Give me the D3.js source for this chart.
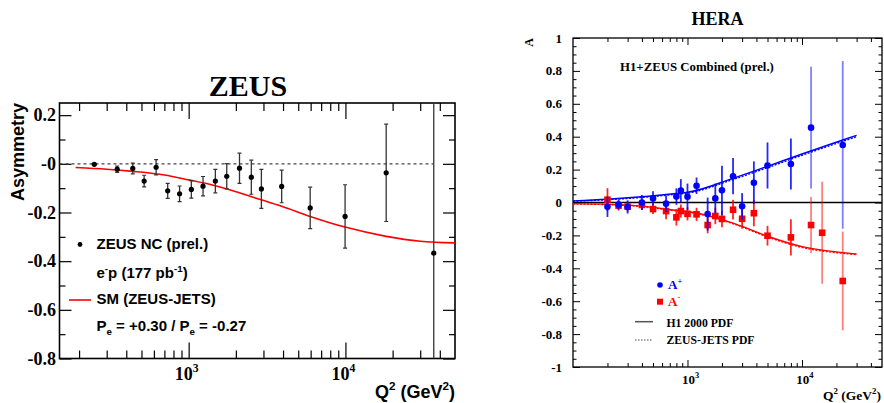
<!DOCTYPE html>
<html>
<head>
<meta charset="utf-8">
<script src="https://cdn.jsdelivr.net/npm/d3@7"></script>
<style>
  body { margin: 0; background: #fff; }
  svg { display: block; }
</style>
</head>
<body>
<svg id="chart" width="884" height="403"></svg>
<script>
// ---- ZEUS panel (left) ----
const zeusQ2   = [250, 350, 440, 520, 620, 735, 875, 1040, 1235, 1480, 1750, 2110, 2510, 2910, 3920, 5960, 9950, 18200, 36600];
const zeusAsym = [-0.002, -0.022, -0.019, -0.071, -0.014, -0.111, -0.123, -0.105, -0.092, -0.071, -0.051, -0.018, -0.055, -0.103, -0.093, -0.181, -0.216, -0.037, -0.367];
const zeusErr  = [0.004, 0.013, 0.022, 0.024, 0.031, 0.031, 0.032, 0.036, 0.040, 0.048, 0.052, 0.062, 0.070, 0.080, 0.067, 0.085, 0.130, 0.200, 0.700];

// SM (ZEUS-JETS) prediction
const smQ2   = [190, 300, 440, 700, 1000, 1480, 2440, 2900, 4000, 5960, 9950, 18200, 30000, 50000];
const smAsym = [-0.015, -0.022, -0.031, -0.046, -0.066, -0.090, -0.132, -0.148, -0.176, -0.216, -0.260, -0.298, -0.318, -0.325];

const zeusYTicks  = [-0.8, -0.6, -0.4, -0.2, 0, 0.2];
const zeusYLabels = ["-0.8", "-0.6", "-0.4", "-0.2", "-0", "0.2"];

// ---- HERA panel (right) ----
const aPlusQ2  = [200, 250, 300, 400, 500, 650, 800, 875, 1000, 1200, 1500, 1750, 2000, 2500, 3000, 3800, 5000, 8000, 12000, 22700];
const aPlus    = [-0.026, -0.013, -0.027, 0.000, 0.025, -0.007, 0.036, 0.072, 0.035, 0.102, -0.070, 0.025, 0.074, 0.160, -0.023, 0.120, 0.225, 0.234, 0.455, 0.350];
const aPlusErr = [0.062, 0.030, 0.040, 0.045, 0.043, 0.050, 0.050, 0.070, 0.080, 0.050, 0.100, 0.090, 0.150, 0.110, 0.080, 0.130, 0.140, 0.155, 0.370, 0.510];

const aMinusQ2  = [200, 250, 300, 400, 500, 650, 800, 875, 1000, 1200, 1500, 1750, 2000, 2500, 3000, 3800, 5000, 8000, 12000, 15000, 22700];
const aMinus    = [0.017, -0.019, -0.025, -0.015, -0.040, -0.052, -0.090, -0.052, -0.069, -0.072, -0.137, -0.082, -0.100, -0.044, -0.099, -0.065, -0.202, -0.212, -0.137, -0.184, -0.477];
const aMinusErr = [0.070, 0.030, 0.030, 0.030, 0.030, 0.050, 0.050, 0.040, 0.040, 0.040, 0.050, 0.050, 0.050, 0.060, 0.060, 0.080, 0.060, 0.110, 0.170, 0.310, 0.300];

// predictions
const pdfQ2        = [100, 200, 400, 800, 1000, 2500, 5000, 10000, 22700, 30000];
const h1Plus       = [0.010, 0.020, 0.035, 0.055, 0.062, 0.147, 0.220, 0.295, 0.380, 0.408];
const h1Minus      = [-0.007, -0.011, -0.022, -0.048, -0.055, -0.125, -0.205, -0.268, -0.305, -0.313];
const zeusJetsPlus = [0.008, 0.017, 0.031, 0.050, 0.057, 0.140, 0.212, 0.287, 0.372, 0.400];
const zeusJetsMinus= [-0.009, -0.013, -0.025, -0.051, -0.058, -0.129, -0.209, -0.273, -0.309, -0.317];

const heraYTicks  = [-1, -0.8, -0.6, -0.4, -0.2, 0, 0.2, 0.4, 0.6, 0.8, 1];
const heraYLabels = ["-1", "-0.8", "-0.6", "-0.4", "-0.2", "0", "0.2", "0.4", "0.6", "0.8", "1"];

const q2Majors = [1000, 10000];
const q2Exps   = ["3", "4"];

const SERIF = "'Liberation Serif', 'Times New Roman', serif";
const SANS  = "'Liberation Sans', Arial, sans-serif";
const svg = d3.select("#chart");

function minorLogTicks(lo, hi) {
  const out = [];
  for (let d = 100; d < hi; d *= 10)
    for (let k = 2; k <= 9; k++) {
      const v = k * d;
      if (v > lo && v < hi) out.push(v);
    }
  return out;
}

// text with super/subscripts: parts = [[string, "sup"|"sub"|null], ...]
function rich(text, parts, size) {
  let shift = 0;
  parts.forEach(([s, kind]) => {
    const target = kind === "sup" ? -0.42 * size : kind === "sub" ? 0.28 * size : 0;
    text.append("tspan")
      .attr("dy", target - shift)
      .attr("font-size", kind ? size * 0.65 : size)
      .text(s);
    shift = target;
  });
  return text;
}

function frameAxes(g, x, y, o) {
  const [x0, x1] = x.range(), [y1, y0] = y.range();
  const minorX = minorLogTicks(x.domain()[0], x.domain()[1]);
  const tickAxes = [
    [d3.axisBottom(x), `translate(0,${y1})`, q2Majors, o.xMajor, minorX, o.xMinor],
    [d3.axisTop(x), `translate(0,${y0})`, q2Majors, o.xMajor, minorX, o.xMinor],
    [d3.axisLeft(y), `translate(${x0},0)`, o.yMajors, o.yMajor, o.yMinors, o.yMinor],
    [d3.axisRight(y), `translate(${x1},0)`, o.yMajors, o.yMajor, o.yMinors, o.yMinor]
  ];
  tickAxes.forEach(([ax, tr, majors, majLen, minors, minLen]) => {
    [[majors, majLen], [minors, minLen]].forEach(([vals, len]) => {
      const a = g.append("g").attr("transform", tr)
        .call(ax.tickValues(vals).tickSize(-len).tickSizeOuter(0).tickFormat(""));
      a.select(".domain").remove();
      a.selectAll("line").attr("stroke", "#000").attr("stroke-width", o.tickWidth);
    });
  });
  g.append("rect")
    .attr("x", x0).attr("y", y0).attr("width", x1 - x0).attr("height", y1 - y0)
    .attr("fill", "none").attr("stroke", "#000").attr("stroke-width", o.frameWidth);
}

// ================= LEFT: ZEUS =================
const xL = d3.scaleLog().domain([150, 50000]).range([59.5, 455]);
const yL = d3.scaleLinear().domain([-0.8, 0.25]).range([358.5, 103]);
const gL = svg.append("g");

svg.append("defs").append("clipPath").attr("id", "clipL")
  .append("rect").attr("x", 59.5).attr("y", 103).attr("width", 455 - 59.5).attr("height", 358.5 - 103);

const yMinorsL = d3.range(-7, 3, 2).map(v => v / 10);
frameAxes(gL, xL, yL, {
  xMajor: 16, xMinor: 8, yMajors: zeusYTicks, yMajor: 12, yMinors: yMinorsL, yMinor: 6,
  tickWidth: 1.2, frameWidth: 1.6
});

// y tick labels
gL.selectAll(".ylab").data(zeusYTicks).enter().append("text")
  .attr("x", 56).attr("y", d => yL(d) + 6)
  .attr("text-anchor", "end")
  .attr("font-family", SERIF).attr("font-weight", "bold").attr("font-size", 18)
  .text((d, i) => zeusYLabels[i]);

// x tick labels 10^n
q2Majors.forEach((v, i) => {
  rich(gL.append("text").attr("x", xL(v) - 2).attr("y", 379.5).attr("text-anchor", "middle")
    .attr("font-family", SERIF).attr("font-weight", "bold"),
    [["10", null], [q2Exps[i], "sup"]], 18);
});

// axis titles
rich(gL.append("text").attr("x", 455).attr("y", 398).attr("text-anchor", "end")
  .attr("font-family", SANS).attr("font-weight", "bold"),
  [["Q", null], ["2", "sup"], [" (GeV", null], ["2", "sup"], [")", null]], 18);

gL.append("text").attr("transform", "translate(24,103) rotate(-90)")
  .attr("text-anchor", "end")
  .attr("font-family", SANS).attr("font-weight", "bold").attr("font-size", 18)
  .text("Asymmetry");

gL.append("text").attr("x", 248).attr("y", 95.5).attr("text-anchor", "middle")
  .attr("font-family", SERIF).attr("font-weight", "bold").attr("font-size", 30)
  .text("ZEUS");

// zero reference line
gL.append("line")
  .attr("x1", xL(150)).attr("x2", xL(36600)).attr("y1", yL(0)).attr("y2", yL(0))
  .attr("stroke", "#444").attr("stroke-width", 1.2).attr("stroke-dasharray", "3,3");

// SM curve
gL.append("path")
  .datum(smQ2.map((q, i) => [q, smAsym[i]]))
  .attr("fill", "none").attr("stroke", "#ff0000").attr("stroke-width", 1.6)
  .attr("clip-path", "url(#clipL)")
  .attr("d", d3.line().x(d => xL(d[0])).y(d => yL(d[1])).curve(d3.curveMonotoneX));

// data with error bars
const zeusPts = zeusQ2.map((q, i) => ({ q, a: zeusAsym[i], e: zeusErr[i] }));
const eb = gL.append("g").attr("clip-path", "url(#clipL)");
eb.selectAll(".bar").data(zeusPts).enter().append("line")
  .attr("x1", d => xL(d.q)).attr("x2", d => xL(d.q))
  .attr("y1", d => yL(d.a + d.e)).attr("y2", d => yL(d.a - d.e))
  .attr("stroke", "#333").attr("stroke-width", 1.3);
eb.selectAll(".cap").data(zeusPts.flatMap(d => [d.a + d.e, d.a - d.e].map(v => ({ q: d.q, v }))))
  .enter().append("line")
  .attr("x1", d => xL(d.q) - 2).attr("x2", d => xL(d.q) + 2)
  .attr("y1", d => yL(d.v)).attr("y2", d => yL(d.v))
  .attr("stroke", "#333").attr("stroke-width", 1.2);
gL.selectAll(".pt").data(zeusPts).enter().append("circle")
  .attr("cx", d => xL(d.q)).attr("cy", d => yL(d.a)).attr("r", 2.6).attr("fill", "#000");

// legend
const legL = gL.append("g").attr("font-family", SANS).attr("font-weight", "bold");
legL.append("circle").attr("cx", 80).attr("cy", 244.5).attr("r", 2.4).attr("fill", "#000");
legL.append("text").attr("x", 96.5).attr("y", 248.5).attr("font-size", 15).text("ZEUS NC (prel.)");
rich(legL.append("text").attr("x", 96.5).attr("y", 278),
  [["e", null], ["-", "sup"], ["p (177 pb", null], ["-1", "sup"], [")", null]], 15);
legL.append("line").attr("x1", 69).attr("x2", 91).attr("y1", 300).attr("y2", 300)
  .attr("stroke", "#ff0000").attr("stroke-width", 1.6);
legL.append("text").attr("x", 96.5).attr("y", 303.5).attr("font-size", 15).text("SM (ZEUS-JETS)");
rich(legL.append("text").attr("x", 96.5).attr("y", 331),
  [["P", null], ["e", "sub"], [" = +0.30 / P", null], ["e", "sub"], [" = -0.27", null]], 15);

// ================= RIGHT: HERA =================
const xR = d3.scaleLog().domain([100, 50000]).range([573, 882]);
const yR = d3.scaleLinear().domain([-1, 1]).range([367, 38]);
const gR = svg.append("g");

const yMinorsR = d3.range(-20, 21).filter(v => v % 4 !== 0).map(v => v / 20);
frameAxes(gR, xR, yR, {
  xMajor: 7, xMinor: 4, yMajors: heraYTicks, yMajor: 7, yMinors: yMinorsR, yMinor: 3.5,
  tickWidth: 1, frameWidth: 1.3
});

gR.selectAll(".ylab").data(heraYTicks).enter().append("text")
  .attr("x", 562).attr("y", d => yR(d) + 4.5)
  .attr("text-anchor", "end")
  .attr("font-family", SERIF).attr("font-weight", "bold").attr("font-size", 13)
  .text((d, i) => heraYLabels[i]);

q2Majors.forEach((v, i) => {
  rich(gR.append("text").attr("x", xR(v) + 3).attr("y", 383.5).attr("text-anchor", "middle")
    .attr("font-family", SERIF).attr("font-weight", "bold"),
    [["10", null], [q2Exps[i], "sup"]], 13);
});

rich(gR.append("text").attr("x", 881).attr("y", 400).attr("text-anchor", "end")
  .attr("font-family", SERIF).attr("font-weight", "bold"),
  [["Q", null], ["2", "sup"], [" (GeV", null], ["2", "sup"], [")", null]], 13.5);

gR.append("text").attr("transform", "translate(533,38) rotate(-90)")
  .attr("text-anchor", "end")
  .attr("font-family", SERIF).attr("font-weight", "bold").attr("font-size", 12)
  .text("A");

gR.append("text").attr("x", 717.5).attr("y", 25).attr("text-anchor", "middle")
  .attr("font-family", SERIF).attr("font-weight", "bold").attr("font-size", 18)
  .text("HERA");

gR.append("text").attr("x", 620).attr("y", 70.5)
  .attr("font-family", SERIF).attr("font-weight", "bold").attr("font-size", 12.8)
  .text("H1+ZEUS Combined (prel.)");

// zero line
gR.append("line")
  .attr("x1", 573).attr("x2", 882).attr("y1", yR(0)).attr("y2", yR(0))
  .attr("stroke", "#000").attr("stroke-width", 1.4);

// prediction curves
const lineR = d3.line().x(d => xR(d[0])).y(d => yR(d[1])).curve(d3.curveMonotoneX);
[[h1Plus, "#0000ff", null], [h1Minus, "#ff0000", null],
 [zeusJetsPlus, "#0000ff", "2,1.5"], [zeusJetsMinus, "#ff0000", "2,1.5"]].forEach(([vals, col, dash]) => {
  gR.append("path")
    .datum(pdfQ2.map((q, i) => [q, vals[i]]))
    .attr("fill", "none").attr("stroke", col).attr("stroke-width", 1.4)
    .attr("stroke-dasharray", dash)
    .attr("d", lineR);
});

// data series
function series(qs, vals, errs, col, shape) {
  const pts = qs.map((q, i) => ({ q, a: vals[i], e: errs[i] }));
  const g = gR.append("g");
  g.selectAll("line").data(pts).enter().append("line")
    .attr("x1", d => xR(d.q)).attr("x2", d => xR(d.q))
    .attr("y1", d => yR(d.a + d.e)).attr("y2", d => yR(d.a - d.e))
    .attr("stroke", col).attr("stroke-width", 1.8)
    .attr("stroke-opacity", d => d.e > 0.16 ? 0.5 : 0.85);
  if (shape === "circle") {
    g.selectAll("circle").data(pts).enter().append("circle")
      .attr("cx", d => xR(d.q)).attr("cy", d => yR(d.a)).attr("r", 3.3).attr("fill", col);
  } else {
    g.selectAll("rect").data(pts).enter().append("rect")
      .attr("x", d => xR(d.q) - 3.3).attr("y", d => yR(d.a) - 3.3)
      .attr("width", 6.6).attr("height", 6.6).attr("fill", col);
  }
}
series(aMinusQ2, aMinus, aMinusErr, "#ff0000", "square");
series(aPlusQ2, aPlus, aPlusErr, "#0000ff", "circle");

// legend
const legR = gR.append("g").attr("font-family", SERIF).attr("font-weight", "bold");
legR.append("circle").attr("cx", 660).attr("cy", 285).attr("r", 2.8).attr("fill", "#0000ff");
rich(legR.append("text").attr("x", 668).attr("y", 289).attr("fill", "#0000ff"),
  [["A", null], ["+", "sup"]], 13);
legR.append("rect").attr("x", 657).attr("y", 298.7).attr("width", 6).attr("height", 6).attr("fill", "#ff0000");
rich(legR.append("text").attr("x", 668).attr("y", 305.5).attr("fill", "#ff0000"),
  [["A", null], ["-", "sup"]], 13);
legR.append("line").attr("x1", 635).attr("x2", 653).attr("y1", 321.7).attr("y2", 321.7)
  .attr("stroke", "#555").attr("stroke-width", 1.5);
legR.append("text").attr("x", 666.5).attr("y", 326.5).attr("font-size", 11.7).text("H1 2000 PDF");
legR.append("line").attr("x1", 635).attr("x2", 653).attr("y1", 340).attr("y2", 340)
  .attr("stroke", "#444").attr("stroke-width", 1).attr("stroke-dasharray", "1.5,1.5");
legR.append("text").attr("x", 666.5).attr("y", 344).attr("font-size", 11.7).text("ZEUS-JETS PDF");
</script>
</body>
</html>
